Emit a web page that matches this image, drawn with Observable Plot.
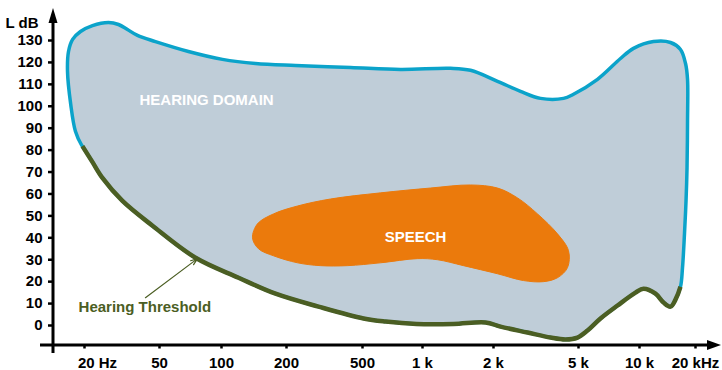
<!DOCTYPE html>
<html><head><meta charset="utf-8">
<script src="https://cdn.jsdelivr.net/npm/d3@7"></script>
<script src="https://cdn.jsdelivr.net/npm/@observablehq/plot@0.6"></script>
<style>body{margin:0;background:#fff} svg{display:block}</style>
</head><body><div id="chart"></div>
<script>
// Tick values and labels
const xTicks = [20, 50, 100, 200, 500, 1000, 2000, 5000, 10000, 20000];
const xTickLabels = ["20 Hz", "50", "100", "200", "500", "1 k", "2 k", "5 k", "10 k", "20 kHz"];
const yTicks = [0, 10, 20, 30, 40, 50, 60, 70, 80, 90, 100, 110, 120, 130];

// Upper boundary of the hearing domain (Hz, dB), left to right
const domainTopFreq = [19.3, 17.9, 16.9, 16.25, 16.45, 17.3, 19.05, 22.05, 26.8, 30.3, 33.8, 38.2, 47.6, 69.1, 101, 143.7, 223, 433, 776, 1314, 1598, 2088, 2676, 3320, 4254, 4738, 6205, 8058, 9341, 11890, 14680, 16610, 17680, 18120, 18120, 18008, 17786, 17450, 17030];
const domainTopDb   = [82.3, 88.6, 100.9, 115.9, 125, 130.5, 134.1, 136.8, 138.2, 137.3, 135, 132.3, 129.5, 125, 121.4, 119.5, 118.6, 117.7, 116.8, 117.3, 116.4, 111.4, 106.8, 103.6, 103.6, 105.5, 112.3, 121.8, 126.4, 129.5, 129.1, 125.9, 119.5, 112.3, 93.2, 71.8, 56.8, 41.8, 26.4];

// Hearing threshold (Hz, dB), left to right
const thresholdFreq = [19.5, 22.05, 24.9, 31.8, 45.9, 74.8, 119.9, 177.9, 294, 506, 652, 933, 1353, 1850, 2157, 2886, 3697, 4347, 4946, 5539, 6420, 7788, 9556, 10510, 12190, 13460, 14680, 15610, 16610];
const thresholdDb   = [81.8, 74.5, 67.3, 56.8, 45.5, 30.9, 21.8, 14.5, 8.6, 3.2, 1.8, 0.7, 0.7, 1.4, -0.5, -3.2, -5.5, -6.4, -5.5, -2.3, 3.2, 9.1, 15, 16.8, 14.5, 10.5, 8.6, 11.8, 17.7];

// Speech region outline (Hz, dB)
const speechFreq = [139.2, 146.8, 174.1, 228.4, 340, 615.6, 1081, 1598, 2088, 2591, 3214, 3987, 4489, 4441, 3987, 3429, 2764, 2088, 1492, 1158, 944, 615.6, 417.3, 301.3, 228.4, 174.1, 148.4];
const speechDb   = [40, 46.4, 50.9, 54.5, 57.7, 60.5, 62.7, 64.1, 62.7, 58.2, 50.9, 41.8, 34.1, 26.4, 21.8, 20, 20.5, 23.6, 27.3, 30, 30.5, 28.6, 27.3, 27.3, 28.6, 31.8, 35];

// Annotations
const labelTexts = ["HEARING DOMAIN", "SPEECH"];
const labelFreq = [84.6, 922.6];
const labelDb = [102.7, 40.2];
const thresholdLabel = {f: 18.6, db: 8.4, text: "Hearing Threshold"};
const arrowFrom = {f: 42.1, db: 12.7};
const arrowTo = {f: 76.5, db: 30.5};
const yTitle = {db: 138, text: "L dB"};

// Build tables
const domainTop = domainTopFreq.map((f, i) => ({f, db: domainTopDb[i]}));
const threshold = thresholdFreq.map((f, i) => ({f, db: thresholdDb[i]}));
const domainPoly = domainTop.concat(threshold.slice().reverse());
const speech = speechFreq.map((f, i) => ({f, db: speechDb[i]}));
const labels = labelTexts.map((t, i) => ({t, f: labelFreq[i], db: labelDb[i]}));
const xLabelData = xTicks.map((f, i) => ({f, t: xTickLabels[i]}));

const olive = "#4b5e23";
const ink = "#000";

const axes = (index, scales, values, dims) => {
  const x0 = dims.marginLeft, yb = dims.height - dims.marginBottom, w = dims.width;
  const g = d3.create("svg:g");
  g.append("line").attr("x1", x0).attr("x2", x0).attr("y1", yb + 8).attr("y2", 20)
    .attr("stroke", ink).attr("stroke-width", 3);
  g.append("path").attr("d", `M${x0},8L${x0 - 4.5},23L${x0 + 4.5},23Z`).attr("fill", ink);
  g.append("line").attr("x1", x0 - 13).attr("x2", w - 12).attr("y1", yb).attr("y2", yb)
    .attr("stroke", ink).attr("stroke-width", 3);
  g.append("path").attr("d", `M${w - 1},${yb}L${w - 15},${yb - 5}L${w - 15},${yb + 5}Z`).attr("fill", ink);
  return g.node();
};

const chart = Plot.plot({
  width: 722,
  height: 370,
  marginLeft: 53,
  marginRight: 2,
  marginTop: 10,
  marginBottom: 25,
  style: {fontFamily: "'Liberation Sans', Arial, sans-serif", fontSize: "15px", fontWeight: "bold", background: "#fff", color: "#000"},
  x: {type: "log", domain: xTicks, range: [84, 159, 221, 286, 362, 422, 493, 578, 639, 695], axis: null, label: null},
  y: {domain: [0, 130], range: [325, 40], axis: null, label: null},
  marks: [
    Plot.line(domainPoly, {x: "f", y: "db", curve: "catmull-rom-closed", fill: "#bfcdd8", stroke: "#0ba3ca", strokeWidth: 3.5}),
    Plot.line(speech, {x: "f", y: "db", curve: "catmull-rom-closed", fill: "#eb7a0c", stroke: "#eb7a0c", strokeWidth: 1}),
    Plot.line(threshold, {x: "f", y: "db", curve: "catmull-rom", stroke: olive, strokeWidth: 4.5, strokeLinecap: "butt"}),
    Plot.text(labels, {x: "f", y: "db", text: "t", fill: "#fff", fontSize: 15}),
    Plot.text([thresholdLabel], {x: "f", y: "db", text: "text", fill: olive, textAnchor: "start", fontSize: 15}),
    Plot.arrow([0], {x1: () => arrowFrom.f, y1: () => arrowFrom.db, x2: () => arrowTo.f, y2: () => arrowTo.db, stroke: olive, strokeWidth: 1.2, headLength: 9, headAngle: 40}),
    Plot.axisY({ticks: yTicks, tickSize: 5, tickFormat: () => "", strokeWidth: 2.5, stroke: ink, label: null}),
    Plot.text(yTicks, {y: d => d, text: d => String(d), frameAnchor: "left", textAnchor: "end", dx: -11, fill: ink}),
    Plot.text([yTitle], {y: "db", text: "text", frameAnchor: "left", textAnchor: "start", dx: -48, fill: ink}),
    Plot.axisX({ticks: xTicks, tickSize: 3.5, tickFormat: () => "", strokeWidth: 2.5, stroke: ink, label: null}),
    Plot.text(xLabelData.slice(1), {x: "f", text: "t", frameAnchor: "bottom", lineAnchor: "top", dy: 12, fill: ink}),
    Plot.text(xLabelData.slice(0, 1), {x: "f", text: "t", frameAnchor: "bottom", lineAnchor: "top", dy: 12, dx: 13, fill: ink}),
    axes
  ]
});
document.getElementById("chart").appendChild(chart);
</script>
</body></html>
